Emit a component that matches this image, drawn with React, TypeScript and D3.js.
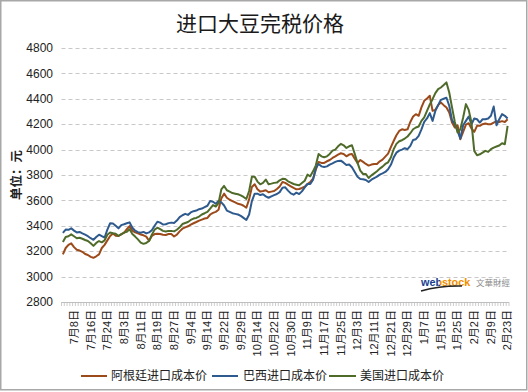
import React from 'react';
import * as d3 from 'd3';

const title = '进口大豆完税价格';
const yAxisTitle = '单位：元';
const seriesNames = ['阿根廷进口成本价', '巴西进口成本价', '美国进口成本价'];
const seriesColors = ['#9c4a1a', '#2e5a8e', '#4f6b2a'];

const yTicks = [2800, 3000, 3200, 3400, 3600, 3800, 4000, 4200, 4400, 4600, 4800];

const tickLabels = [
  '7月8日', '7月16日', '7月24日', '8月3日', '8月11日', '8月19日', '8月27日',
  '9月4日', '9月14日', '9月22日', '9月29日', '10月14日', '10月22日', '10月30日',
  '11月9日', '11月17日', '11月25日', '12月3日', '12月11日', '12月21日', '12月29日',
  '1月7日', '1月15日', '1月25日', '2月2日', '2月9日', '2月23日',
];
const labelStart = 4;
const labelStep = 6;

const argentina = [
  3175, 3225, 3250, 3262, 3232, 3212, 3205, 3195, 3178, 3170,
  3155, 3148, 3160, 3175, 3225, 3250, 3285, 3320, 3340, 3322,
  3320, 3335, 3345, 3373, 3398, 3362, 3348, 3340, 3332, 3325,
  3315, 3282, 3320, 3335, 3338, 3335, 3330, 3328, 3335, 3335,
  3316, 3330, 3356, 3377, 3388, 3396, 3409, 3420, 3430, 3441,
  3449, 3457, 3462, 3489, 3502, 3510, 3526, 3616, 3653, 3621,
  3605, 3595, 3584, 3573, 3568, 3558, 3542, 3608, 3706, 3727,
  3687, 3669, 3674, 3680, 3664, 3669, 3674, 3690, 3710, 3745,
  3738, 3724, 3711, 3698, 3687, 3690, 3698, 3708, 3729, 3745,
  3771, 3842, 3903, 3895, 3895, 3908, 3918, 3934, 3947, 3961,
  3971, 3966, 3947, 3961, 3966, 3929, 3895, 3918, 3903, 3887,
  3874, 3882, 3887, 3887, 3908, 3921, 3945, 3968, 4020,
  4068, 4113, 4147, 4160, 4155, 4160, 4218, 4260, 4279, 4266,
  4332, 4384, 4403, 4424, 4305, 4313, 4350, 4371, 4350, 4332,
  4292, 4213, 4174, 4192, 4082, 4140, 4197, 4208, 4166, 4140,
  4187, 4187, 4200, 4205, 4200, 4200, 4213, 4224, 4218, 4224,
  4218, 4239,
];

const brazil = [
  3345, 3370, 3368, 3380, 3362, 3348, 3352, 3340, 3330, 3318,
  3302, 3290, 3312, 3330, 3318, 3308, 3370, 3420, 3418, 3400,
  3380, 3405, 3412, 3420, 3427, 3385, 3362, 3350, 3345, 3352,
  3340, 3348, 3365, 3400, 3432, 3425, 3410, 3412, 3421, 3425,
  3422, 3441, 3468, 3483, 3494, 3486, 3505, 3515, 3520, 3531,
  3536, 3547, 3558, 3595, 3590, 3573, 3595, 3585, 3560, 3520,
  3510, 3499, 3494, 3489, 3478, 3462, 3446, 3489, 3595, 3653,
  3653, 3642, 3648, 3632, 3621, 3632, 3642, 3650, 3665, 3700,
  3703, 3677, 3655, 3645, 3661, 3650, 3671, 3703, 3729, 3729,
  3763, 3855, 3887, 3868, 3863, 3868, 3882, 3892, 3903, 3911,
  3913, 3897, 3879, 3882, 3861, 3824, 3787, 3769, 3766, 3761,
  3745, 3763, 3776, 3787, 3803, 3813, 3824, 3845, 3880,
  3937, 3976, 3992, 4000, 4011, 4003, 4029, 4076, 4082, 4108,
  4160, 4218, 4245, 4287, 4226, 4305, 4350, 4392, 4400, 4408,
  4345, 4232, 4200, 4147, 4087, 4192, 4226, 4260, 4200, 4245,
  4239, 4213, 4239, 4239, 4245, 4266, 4339, 4192, 4239, 4279,
  4266, 4245,
];

const usa = [
  3272, 3312, 3318, 3333, 3318, 3302, 3306, 3298, 3288, 3280,
  3262, 3242, 3265, 3280, 3270, 3285, 3330, 3347, 3342, 3338,
  3320, 3332, 3347, 3352, 3373, 3335, 3315, 3293, 3268, 3258,
  3265, 3280, 3330, 3370, 3385, 3373, 3360, 3355, 3360, 3360,
  3356, 3369, 3388, 3414, 3422, 3430, 3446, 3457, 3462, 3473,
  3489, 3499, 3510, 3536, 3563, 3552, 3579, 3687, 3714, 3680,
  3669, 3658, 3653, 3648, 3640, 3627, 3611, 3674, 3786, 3786,
  3748, 3727, 3738, 3764, 3727, 3732, 3738, 3740, 3758, 3770,
  3768, 3750, 3740, 3729, 3724, 3719, 3737, 3755, 3803, 3790,
  3829, 3876, 3966, 3947, 3940, 3947, 3966, 3992, 4000, 4026,
  4045, 4034, 4013, 4026, 4034, 3966, 3895, 3834, 3808, 3808,
  3776, 3797, 3813, 3829, 3850, 3866, 3887, 3900, 3938,
  4003, 4045, 4066, 4074, 4087, 4103, 4129, 4160, 4174, 4182,
  4226, 4253, 4305, 4355, 4397, 4445, 4476, 4489, 4508, 4529,
  4450, 4332, 4218, 4134, 4160, 4253, 4358, 4313, 4213, 3990,
  3955, 3963, 3976, 3990, 3982, 4003, 4016, 4024, 4032, 4050,
  4042, 4187,
];

const seriesData = [argentina, brazil, usa];

const W = 528;
const H = 392;
const X0 = 61.5;
const X1 = 509;
const Y_TOP = 48;
const Y_BOT = 302;

const numFont = "'Liberation Sans', Arial, 'Noto Sans CJK SC', sans-serif";
const cjkFont = "'Noto Sans CJK SC', 'Liberation Sans', sans-serif";

export default function App() {
  const n = argentina.length;
  const idx = d3.range(n);
  const x = d3.scaleBand<number>().domain(idx).range([X0, X1]).paddingInner(0).paddingOuter(0);
  const bw = x.bandwidth();
  const cx = (i: number) => (x(i) as number) + bw / 2;
  const y = d3.scaleLinear().domain([2800, 4800]).range([Y_BOT, Y_TOP]);
  const line = d3.line<number>().x((_, i) => cx(i)).y((d) => y(d));

  const boundaries = d3.range(n + 1).map((j) => X0 + j * bw);

  const legendItems = [
    { lx0: 81, lx1: 107, tx: 111 },
    { lx0: 212, lx1: 238, tx: 243 },
    { lx0: 329, lx1: 356, tx: 360 },
  ];

  return (
    <div style={{ position: 'absolute', left: 0, top: 0 }}>
      <svg width={W} height={H} style={{ display: 'block' }}>
        <defs>
          <linearGradient id="logoGrad" gradientUnits="userSpaceOnUse" x1={421} x2={468} y1={0} y2={0}>
            <stop offset="0.41" stopColor="#1d3f8f" />
            <stop offset="0.41" stopColor="#f28c00" />
          </linearGradient>
        </defs>
        <rect x={0} y={0} width={W} height={H} fill="#ffffff" />
        <rect x={0.75} y={0.75} width={526} height={389} fill="none" stroke="#a8a8a8" strokeWidth={1.5} />
        <text x={260} y={31} textAnchor="middle" fontSize={21} fontFamily={cjkFont} fill="#1a1a1a">
          {title}
        </text>

        {/* gridlines */}
        {yTicks.filter((t) => t !== 2800).map((t) => (
          <line key={'g' + t} x1={X0} x2={X1} y1={Math.round(y(t)) + 0.5} y2={Math.round(y(t)) + 0.5}
            stroke="#c8c8c8" strokeWidth={1} strokeDasharray="4,3" />
        ))}

        {/* y tick labels */}
        {yTicks.map((t) => (
          <text key={'yt' + t} x={53} y={y(t)} dy="0.35em" textAnchor="end" fontSize={12}
            fontFamily={numFont} fill="#222">
            {t}
          </text>
        ))}

        {/* y axis title */}
        <text transform={`translate(17,${(Y_TOP + Y_BOT) / 2}) rotate(-90)`} textAnchor="middle"
          dy="0.35em" fontSize={12.5} fontWeight="bold" fontFamily={cjkFont} fill="#222">
          {yAxisTitle}
        </text>

        {/* x axis */}
        <line x1={X0} x2={X1} y1={Y_BOT + 0.5} y2={Y_BOT + 0.5} stroke="#bfbfbf" strokeWidth={1} />
        {boundaries.map((bx, j) => (
          <line key={'tk' + j} x1={bx} x2={bx} y1={Y_BOT} y2={Y_BOT + 4} stroke="#bfbfbf" strokeWidth={0.8} />
        ))}
        {tickLabels.map((lab, k) => {
          const i = labelStart + k * labelStep;
          return (
            <text key={'xl' + k} transform={`translate(${cx(i)},${Y_BOT + 8}) rotate(-90)`}
              textAnchor="end" dy="0.35em" fontSize={11} fontFamily={numFont} fill="#222">
              {lab}
            </text>
          );
        })}

        {/* logo */}
        <text x={421} y={286} fontSize={10.8} fontWeight="bold" fontFamily={numFont} fill="url(#logoGrad)">
          webstock
        </text>
        <path d="M421,291 Q440,285.5 462,286" fill="none" stroke="#222" strokeWidth={1.6} />
        <text x={476} y={286} fontSize={8.5} fontFamily={cjkFont} fill="#8a8a8a">文華財經</text>

        {/* series */}
        {seriesData.map((s, si) => (
          <path key={'s' + si} d={line(s) as string} fill="none" stroke={seriesColors[si]}
            strokeWidth={2} strokeLinejoin="round" />
        ))}

        {/* legend */}
        {legendItems.map((it, si) => (
          <g key={'lg' + si}>
            <line x1={it.lx0} x2={it.lx1} y1={376} y2={376} stroke={seriesColors[si]} strokeWidth={2} />
            <text x={it.tx} y={376} dy="0.35em" fontSize={12} fontFamily={cjkFont} fill="#222">
              {seriesNames[si]}
            </text>
          </g>
        ))}
      </svg>
    </div>
  );
}
